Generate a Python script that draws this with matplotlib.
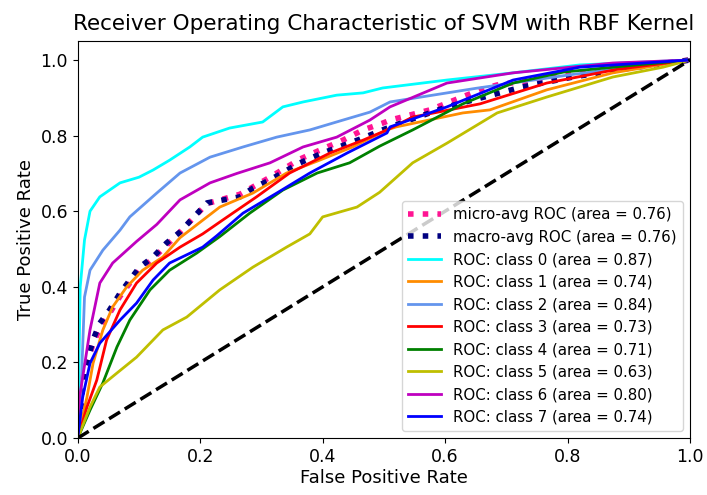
import matplotlib
matplotlib.use("Agg")
import matplotlib.pyplot as plt

# ROC points (fpr, tpr)
micro_fpr = [0.0, 0.01, 0.025, 0.036, 0.052, 0.069, 0.085, 0.101, 0.123, 0.145, 0.167, 0.211, 0.265, 0.314, 0.363, 0.40, 0.433, 0.466, 0.498, 0.51, 0.575, 0.657, 0.685, 0.78, 0.88, 1.0]
micro_tpr = [0.0, 0.17, 0.25, 0.29, 0.33, 0.375, 0.41, 0.445, 0.475, 0.51, 0.545, 0.62, 0.645, 0.69, 0.738, 0.765, 0.788, 0.815, 0.833, 0.841, 0.868, 0.921, 0.934, 0.955, 0.978, 1.0]
macro_fpr = [0.0, 0.01, 0.025, 0.036, 0.052, 0.069, 0.085, 0.101, 0.123, 0.145, 0.167, 0.211, 0.265, 0.286, 0.314, 0.363, 0.40, 0.46, 0.51, 0.603, 0.727, 0.809, 0.9, 1.0]
macro_tpr = [0.0, 0.17, 0.26, 0.304, 0.339, 0.383, 0.418, 0.452, 0.479, 0.516, 0.545, 0.622, 0.638, 0.661, 0.683, 0.728, 0.754, 0.79, 0.823, 0.876, 0.929, 0.955, 0.978, 1.0]

class_names = ["class 0", "class 1", "class 2", "class 3", "class 4", "class 5", "class 6", "class 7"]
class_auc = [0.87, 0.74, 0.84, 0.73, 0.71, 0.63, 0.80, 0.74]
micro_auc = 0.76
macro_auc = 0.76

fpr0 = [0.0, 0.004, 0.011, 0.02, 0.036, 0.069, 0.1, 0.123, 0.15, 0.183, 0.204, 0.248, 0.302, 0.335, 0.368, 0.423, 0.466, 0.498, 0.603, 0.711, 0.82, 1.0]
tpr0 = [0.0, 0.40, 0.524, 0.60, 0.638, 0.675, 0.69, 0.709, 0.735, 0.770, 0.796, 0.820, 0.836, 0.876, 0.889, 0.907, 0.913, 0.926, 0.947, 0.966, 0.987, 1.0]
fpr1 = [0.0, 0.015, 0.025, 0.041, 0.057, 0.08, 0.106, 0.139, 0.167, 0.232, 0.286, 0.341, 0.395, 0.449, 0.505, 0.52, 0.629, 0.673, 0.766, 0.874, 1.0]
tpr1 = [0.0, 0.108, 0.198, 0.286, 0.347, 0.40, 0.444, 0.479, 0.53, 0.611, 0.648, 0.701, 0.735, 0.770, 0.815, 0.823, 0.860, 0.868, 0.921, 0.966, 1.0]
fpr2 = [0.0, 0.003, 0.011, 0.02, 0.041, 0.069, 0.085, 0.129, 0.167, 0.216, 0.27, 0.325, 0.379, 0.433, 0.477, 0.51, 0.65, 0.8, 0.92, 1.0]
tpr2 = [0.0, 0.02, 0.373, 0.444, 0.497, 0.55, 0.585, 0.648, 0.701, 0.743, 0.77, 0.796, 0.815, 0.841, 0.862, 0.889, 0.925, 0.96, 0.985, 1.0]
fpr3 = [0.0, 0.015, 0.031, 0.047, 0.069, 0.096, 0.129, 0.167, 0.204, 0.237, 0.292, 0.346, 0.412, 0.466, 0.505, 0.547, 0.657, 0.766, 0.88, 1.0]
tpr3 = [0.0, 0.082, 0.153, 0.259, 0.339, 0.41, 0.463, 0.505, 0.54, 0.577, 0.638, 0.701, 0.754, 0.788, 0.815, 0.849, 0.884, 0.939, 0.975, 1.0]
fpr4 = [0.0, 0.02, 0.041, 0.064, 0.085, 0.118, 0.15, 0.194, 0.232, 0.281, 0.335, 0.391, 0.444, 0.493, 0.547, 0.629, 0.711, 0.793, 0.9, 1.0]
tpr4 = [0.0, 0.074, 0.146, 0.241, 0.312, 0.392, 0.444, 0.489, 0.533, 0.595, 0.656, 0.701, 0.728, 0.772, 0.815, 0.884, 0.939, 0.968, 0.985, 1.0]
fpr5 = [0.0, 0.02, 0.036, 0.064, 0.096, 0.139, 0.178, 0.232, 0.286, 0.341, 0.379, 0.40, 0.456, 0.493, 0.547, 0.603, 0.685, 0.766, 0.874, 0.956, 1.0]
tpr5 = [0.0, 0.082, 0.135, 0.172, 0.214, 0.286, 0.32, 0.392, 0.452, 0.505, 0.54, 0.585, 0.611, 0.650, 0.728, 0.78, 0.86, 0.902, 0.955, 0.981, 1.0]
fpr6 = [0.0, 0.003, 0.02, 0.036, 0.057, 0.096, 0.129, 0.167, 0.216, 0.26, 0.314, 0.368, 0.423, 0.477, 0.51, 0.603, 0.711, 0.874, 1.0]
tpr6 = [0.0, 0.108, 0.286, 0.41, 0.463, 0.52, 0.565, 0.63, 0.675, 0.70, 0.728, 0.77, 0.796, 0.841, 0.876, 0.939, 0.966, 0.992, 1.0]
fpr7 = [0.0, 0.008, 0.02, 0.036, 0.069, 0.096, 0.123, 0.15, 0.204, 0.227, 0.27, 0.325, 0.379, 0.44, 0.505, 0.51, 0.603, 0.711, 0.82, 1.0]
tpr7 = [0.0, 0.108, 0.198, 0.251, 0.312, 0.357, 0.418, 0.463, 0.505, 0.535, 0.595, 0.648, 0.701, 0.754, 0.807, 0.823, 0.876, 0.947, 0.981, 1.0]

class_fpr = [fpr0, fpr1, fpr2, fpr3, fpr4, fpr5, fpr6, fpr7]
class_tpr = [tpr0, tpr1, tpr2, tpr3, tpr4, tpr5, tpr6, tpr7]
colors = ["aqua", "darkorange", "cornflowerblue", "r", "g", "y", "m", "b"]

fig = plt.figure(figsize=(7.07, 4.95), dpi=100)
ax = fig.add_axes([0.110, 0.115, 0.866, 0.802])

ax.plot(micro_fpr, micro_tpr, color="deeppink", linestyle=":", linewidth=4,
        label="micro-avg ROC (area = {0:0.2f})".format(micro_auc))
ax.plot(macro_fpr, macro_tpr, color="navy", linestyle=":", linewidth=4,
        label="macro-avg ROC (area = {0:0.2f})".format(macro_auc))
for i in range(len(class_names)):
    ax.plot(class_fpr[i], class_tpr[i], color=colors[i], linewidth=2,
            label="ROC: {0} (area = {1:0.2f})".format(class_names[i], class_auc[i]))

ax.plot([0, 1], [0, 1], "k--", linewidth=2.5)
ax.set_xlim(0.0, 1.0)
ax.set_ylim(0.0, 1.05)
ax.tick_params(labelsize=12.5)
ax.set_xlabel("False Positive Rate", fontsize=13, labelpad=2)
ax.set_ylabel("True Positive Rate", fontsize=13)
ax.set_title("Receiver Operating Characteristic of SVM with RBF Kernel", fontsize=15.5, pad=8)
ax.legend(loc="lower right", fontsize=10.8, handlelength=2.2, labelspacing=0.5)

fig.savefig("out.png")
